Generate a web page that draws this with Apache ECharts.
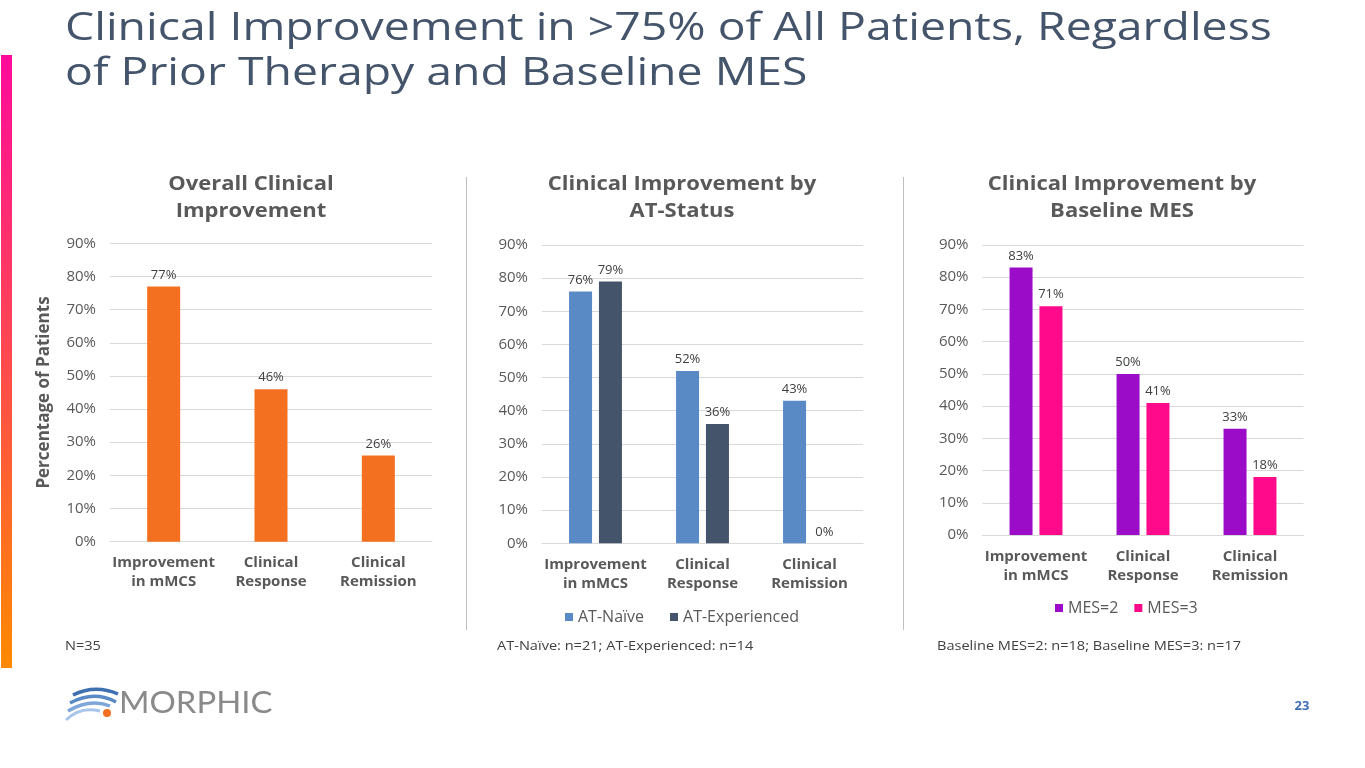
<!DOCTYPE html>
<html>
<head>
<meta charset="utf-8">
<script src="https://cdn.jsdelivr.net/npm/echarts@6/dist/echarts.min.js"></script>
<style>
html,body{margin:0;padding:0;background:#fff;}
#c{width:1365px;height:768px;}
</style>
</head>
<body>
<div id="c"></div>
<script>
const categories = ['Improvement\nin mMCS', 'Clinical\nResponse', 'Clinical\nRemission'];
const overall = [77, 46, 26];
const atNaive = [76, 52, 43];
const atExperienced = [79, 36, 0];
const mes2 = [83, 50, 33];
const mes3 = [71, 41, 18];
const yTicks = [0, 10, 20, 30, 40, 50, 60, 70, 80, 90];

const FF = '"Open Sans", Lato, sans-serif';
const GRAY = '#595959';

function yAxis(idx, name) {
  return {
    type: 'value', gridIndex: idx, min: yTicks[0], max: yTicks[yTicks.length - 1], interval: 10,
    axisLabel: { formatter: '{value}%', color: GRAY, fontSize: 15, fontFamily: FF, margin: 14 },
    splitLine: { lineStyle: { color: '#D9D9D9', width: 1 } },
    axisLine: { show: false }, axisTick: { show: false },
    name: name || '', nameLocation: 'middle', nameGap: 57,
    nameTextStyle: { color: GRAY, fontSize: 17, fontWeight: 'bold', fontFamily: FF }
  };
}
function xAxis(idx) {
  return {
    type: 'category', gridIndex: idx, data: categories,
    axisLine: { lineStyle: { color: '#D9D9D9' } }, axisTick: { show: false },
    axisLabel: { interval: 0, color: GRAY, fontSize: 15, fontWeight: 'bold', fontFamily: FF, lineHeight: 19, margin: 12 }
  };
}
const lbl = { show: true, position: 'top', distance: 5, formatter: '{c}%', color: '#404040', fontSize: 13, fontFamily: FF };

function txt(x, y, text, font, fill, opts) {
  const o = opts || {};
  return { type: 'text', x: x, y: y, scaleX: o.scaleX || 1,
    style: Object.assign({ text: text, x: 0, y: 0, font: font, fill: fill }, o.style || {}) };
}

const chart = echarts.init(document.getElementById('c'));
chart.setOption({
  animation: false,
  grid: [
    { left: 110, top: 243.3, width: 322, height: 298.4 },
    { left: 542, top: 245, width: 321, height: 298.3 },
    { left: 982.5, top: 245, width: 321, height: 290 }
  ],
  xAxis: [xAxis(0), xAxis(1), xAxis(2)],
  yAxis: [yAxis(0, 'Percentage of Patients'), yAxis(1), yAxis(2)],
  legend: [
    { data: ['AT-Naïve', 'AT-Experienced'], left: 560, top: 604, icon: 'rect', itemWidth: 8, itemHeight: 8, itemGap: 26,
      textStyle: { color: GRAY, fontSize: 16, fontFamily: FF } },
    { data: ['MES=2', 'MES=3'], left: 1050, top: 595, icon: 'rect', itemWidth: 8, itemHeight: 8, itemGap: 16,
      textStyle: { color: GRAY, fontSize: 16, fontFamily: FF } }
  ],
  series: [
    { name: 'Overall', type: 'bar', xAxisIndex: 0, yAxisIndex: 0, data: overall, barWidth: 33,
      itemStyle: { color: '#F37021' }, label: lbl },
    { name: 'AT-Naïve', type: 'bar', xAxisIndex: 1, yAxisIndex: 1, data: atNaive, barWidth: 23, barGap: '30%',
      itemStyle: { color: '#5A8AC6' }, label: lbl },
    { name: 'AT-Experienced', type: 'bar', xAxisIndex: 1, yAxisIndex: 1, data: atExperienced, barWidth: 23, barGap: '30%',
      itemStyle: { color: '#44546A' }, label: lbl },
    { name: 'MES=2', type: 'bar', xAxisIndex: 2, yAxisIndex: 2, data: mes2, barWidth: 23, barGap: '30%',
      itemStyle: { color: '#9A0CC8' }, label: lbl },
    { name: 'MES=3', type: 'bar', xAxisIndex: 2, yAxisIndex: 2, data: mes3, barWidth: 23, barGap: '30%',
      itemStyle: { color: '#FF0A8A' }, label: lbl }
  ],
  graphic: [
    { type: 'rect', shape: { x: 1, y: 55, width: 11, height: 613 },
      style: { fill: new echarts.graphic.LinearGradient(0, 0, 0, 1, [{ offset: 0, color: '#FF0A9B' }, { offset: 1, color: '#FF8A00' }]) } },
    txt(65, 7, 'Clinical Improvement in >75% of All Patients, Regardless\nof Prior Therapy and Baseline MES',
      '38px ' + FF, '#44546A', { scaleX: 1.22, style: { lineHeight: 45 } }),
    txt(251, 171, 'Overall Clinical\nImprovement', 'bold 20px ' + FF, GRAY, { scaleX: 1.1, style: { textAlign: 'center', lineHeight: 27 } }),
    txt(682, 171, 'Clinical Improvement by\nAT-Status', 'bold 20px ' + FF, GRAY, { scaleX: 1.1, style: { textAlign: 'center', lineHeight: 27 } }),
    txt(1122, 171, 'Clinical Improvement by\nBaseline MES', 'bold 20px ' + FF, GRAY, { scaleX: 1.1, style: { textAlign: 'center', lineHeight: 27 } }),
    { type: 'line', shape: { x1: 466.5, y1: 177, x2: 466.5, y2: 630 }, style: { stroke: '#BFBFBF', lineWidth: 1 } },
    { type: 'line', shape: { x1: 903.5, y1: 177, x2: 903.5, y2: 630 }, style: { stroke: '#BFBFBF', lineWidth: 1 } },
    txt(65, 646, 'N=35', '13px ' + FF, '#404040', { scaleX: 1.12, style: { textVerticalAlign: 'middle' } }),
    txt(497, 646, 'AT-Naïve: n=21; AT-Experienced: n=14', '13px ' + FF, '#404040', { scaleX: 1.12, style: { textVerticalAlign: 'middle' } }),
    txt(937, 646, 'Baseline MES=2: n=18; Baseline MES=3: n=17', '13px ' + FF, '#404040', { scaleX: 1.12, style: { textVerticalAlign: 'middle' } }),
    { type: 'bezierCurve', shape: { x1: 73, y1: 695, cpx1: 95, cpy1: 684, x2: 118, y2: 694 }, style: { stroke: '#3E6FB0', lineWidth: 3.5, fill: null } },
    { type: 'bezierCurve', shape: { x1: 70, y1: 703, cpx1: 94, cpy1: 690, x2: 116, y2: 702 }, style: { stroke: '#5A8AC6', lineWidth: 3.5, fill: null } },
    { type: 'bezierCurve', shape: { x1: 68, y1: 711, cpx1: 90, cpy1: 698, x2: 110, y2: 706 }, style: { stroke: '#7FA6D8', lineWidth: 3.5, fill: null } },
    { type: 'bezierCurve', shape: { x1: 66, y1: 720, cpx1: 80, cpy1: 706, x2: 100, y2: 711 }, style: { stroke: '#A9C6EA', lineWidth: 3, fill: null } },
    { type: 'circle', shape: { cx: 107, cy: 713, r: 4 }, style: { fill: '#F37021' } },
    txt(119, 703, 'MORPHIC', '31px Lato, sans-serif', '#8A8A8A', { scaleX: 1.06, style: { textVerticalAlign: 'middle' } }),
    txt(1302, 706, '23', 'bold 13px ' + FF, '#3F6FB5', { style: { textAlign: 'center', textVerticalAlign: 'middle' } })
  ]
});
</script>
</body>
</html>
